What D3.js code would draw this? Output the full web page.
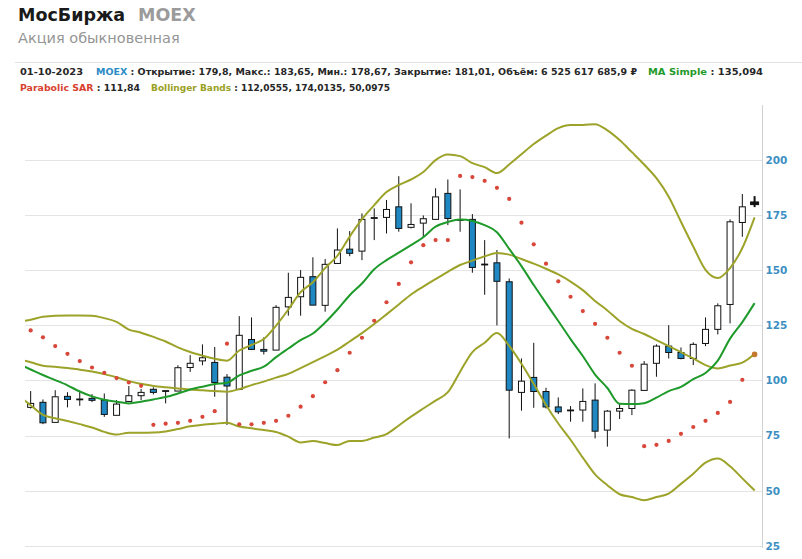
<!DOCTYPE html>
<html><head><meta charset="utf-8">
<script src="https://cdn.jsdelivr.net/npm/d3@7"></script>
<style>body{margin:0;background:#fff;} svg{display:block;}</style>
</head><body><svg id="c" width="802" height="559"></svg>
<script>
// weekly candles (first entry of lineDates is the week before the first visible candle)
const dates = ["14-08-2022","21-08-2022","28-08-2022","04-09-2022","11-09-2022","18-09-2022","25-09-2022","02-10-2022","09-10-2022","16-10-2022","23-10-2022","30-10-2022","06-11-2022","13-11-2022","20-11-2022","27-11-2022","04-12-2022","11-12-2022","18-12-2022","25-12-2022",
"01-01-2023","08-01-2023","15-01-2023","22-01-2023","29-01-2023","05-02-2023","12-02-2023","19-02-2023","26-02-2023","05-03-2023","12-03-2023","19-03-2023","26-03-2023","02-04-2023","09-04-2023","16-04-2023","23-04-2023","30-04-2023","07-05-2023","14-05-2023",
"21-05-2023","28-05-2023","04-06-2023","11-06-2023","18-06-2023","25-06-2023","02-07-2023","09-07-2023","16-07-2023","23-07-2023","30-07-2023","06-08-2023","13-08-2023","20-08-2023","27-08-2023","03-09-2023","10-09-2023","17-09-2023","24-09-2023","01-10-2023"];
const lineDates = ["07-08-2022"].concat(dates);

const openP  = [87.8,90.1,81.0,92.8,91.6,91.9,91.1,84.2,90.5,93.1,96.0,95.3,95.2,105.9,108.9,108.2,101.5,96.0,118.6,114.1,113.8,133.4,138.0,147.1,134.1,153.1,159.6,158.7,173.8,174.0,178.8,169.5,171.4,173.1,184.9,173.0,173.1,152.8,153.4,144.8,94.6,101.4,95.0,88.0,86.5,86.6,91.1,77.5,86.1,87.3,95.5,107.8,115.6,112.7,110.0,116.8,123.2,134.5,171.7,179.8];
const highP  = [95.2,91.4,95.6,94.7,95.3,93.8,94.1,91.1,97.5,96.2,96.9,95.6,106.9,111.5,116.4,115.2,102.9,129.2,128.6,119.6,134.2,148.9,150.1,155.9,155.1,169.0,167.8,175.8,178.1,181.9,192.7,180.4,174.9,187.2,191.2,186.7,175.5,163.7,159.2,146.3,110.0,117.1,96.7,92.3,88.4,96.4,98.7,86.6,89.6,96.0,108.8,116.4,125.1,115.0,117.3,128.6,135.0,173.1,184.6,183.65];
const lowP   = [87.3,80.2,81.0,87.8,88.5,90.2,83.5,84.2,90.1,91.1,93.7,89.6,95.2,103.9,106.9,92.6,79.8,95.6,113.8,111.8,113.8,129.4,129.4,134.2,131.2,153.1,156.4,154.6,163.7,166.7,167.5,169.0,164.7,173.1,170.5,167.5,148.9,138.9,125.0,73.7,86.3,87.6,87.3,84.8,81.3,81.3,73.7,70.0,82.5,84.3,95.5,101.7,110.0,109.6,107.0,115.6,120.9,125.9,165.2,178.67];
const closeP = [89.6,80.8,92.6,91.4,91.5,91.0,84.6,89.3,93.1,94.6,94.6,95.4,105.8,107.8,110.3,99.1,97.5,120.5,114.1,113.3,133.2,137.7,146.8,134.2,152.7,159.2,157.7,173.1,173.9,177.6,169.0,170.8,173.4,183.3,173.5,173.0,151.3,152.8,145.0,95.6,99.7,95.0,88.0,85.8,86.6,90.5,77.0,86.1,87.3,95.6,107.4,115.6,112.7,110.0,116.4,123.2,133.9,172.0,178.8,181.01];

// indicators (aligned with lineDates)
const maSimple = [107.5,105.0,102.5,100.2,97.8,95.0,92.8,91.3,90.4,89.6,90.4,91.4,92.5,94.1,95.9,97.2,98.4,99.0,102.3,104.4,106.3,110.6,114.5,118.3,121.3,126.3,132.2,138.7,144.0,150.5,154.6,158.0,161.4,165.0,169.8,171.9,173.0,172.4,170.5,167.3,159.7,151.9,143.3,135.1,127.0,118.8,111.1,102.7,96.6,89.4,89.3,89.7,92.2,95.2,97.1,100.6,103.4,109.0,119.0,126.5,135.094];
const bbUpper  = [126.5,127.6,128.9,129.4,129.5,129.5,129.4,128.3,126.6,123.1,121.7,119.8,117.7,115.0,112.9,111.3,109.9,109.0,113.6,116.1,118.8,124.9,132.2,140.1,144.6,151.0,156.6,165.3,173.2,179.6,185.5,188.7,191.2,194.6,200.0,202.5,201.8,198.6,196.8,194.1,198.0,202.7,207.3,211.1,214.5,215.9,215.9,216.3,213.5,209.1,203.6,198.0,191.8,183.4,172.0,160.8,150.2,146.5,151.0,160.1,174.0135];
const bbMiddle = [109.6,108.3,106.7,106.2,105.7,104.9,104.1,102.9,101.5,99.7,98.5,97.5,96.9,96.4,95.9,95.6,95.2,94.9,96.1,97.9,99.5,101.3,103.0,105.6,108.3,111.1,114.0,117.7,121.5,125.6,130.0,134.5,139.0,142.6,146.0,149.3,152.4,154.4,156.3,157.9,157.1,155.1,153.0,150.7,148.1,144.9,141.0,136.1,131.8,127.0,123.4,121.1,118.3,115.6,112.9,110.0,107.0,105.5,106.8,108.1,112.0555];
const bbLower  = [93.1,88.8,84.4,82.9,81.6,80.2,78.7,76.7,75.5,76.3,76.3,76.4,76.9,78.0,79.2,79.9,80.4,80.8,79.1,78.3,77.5,76.6,74.5,71.9,72.5,71.6,70.7,72.6,72.6,74.1,75.7,79.6,83.6,87.3,90.9,94.7,104.0,112.9,117.1,121.5,115.7,107.6,98.4,88.9,80.5,73.1,65.0,57.4,52.5,48.4,47.1,45.7,47.1,48.7,53.1,57.7,62.7,64.6,61.1,55.6,50.0975];
// parabolic SAR (aligned with dates)
const sarP = [122.7,119.6,115.6,112.1,108.8,105.9,103.5,101.1,99.1,97.6,79.9,80.4,80.8,81.7,83.5,86.1,116.7,80.1,80.1,80.8,81.7,84.0,88.1,92.9,99.2,104.7,112.6,119.4,127.1,135.5,143.8,153.6,161.4,163.7,163.7,192.8,192.3,190.6,187.4,182.4,171.6,161.8,153.0,145.0,138.0,131.5,125.7,119.4,112.6,106.7,70.2,70.8,72.6,75.8,78.9,81.7,85.3,90.3,100.3,111.84];

const yTicks = [25,50,75,100,125,150,175,200];

const svg = d3.select("#c");
const plotL = 25, plotR = 762, plotT = 105, plotB = 548;
const x = d3.scalePoint().domain(lineDates).range([18.4, 754.6]);
const y = d3.scaleLinear().domain([24, 225]).range([plotB, plotT]);

const FONT = "'DejaVu Sans', Verdana, sans-serif";

// header
svg.append("text").attr("x",18).attr("y",21).attr("font-family",FONT).attr("font-weight","bold").attr("font-size",17.5).attr("fill","#1a1a1a").text("МосБиржа");
svg.append("text").attr("x",138).attr("y",21).attr("font-family",FONT).attr("font-weight","bold").attr("font-size",17.5).attr("fill","#9b9b9b").text("MOEX");
svg.append("text").attr("x",18).attr("y",43).attr("font-family",FONT).attr("font-size",14.5).attr("fill","#959595").text("Акция обыкновенная");
svg.append("line").attr("x1",15).attr("x2",802).attr("y1",62.5).attr("y2",62.5).attr("stroke","#e2e2e2");

function legend(xp, yp, width, parts){
  const t = svg.append("text").attr("x",xp).attr("y",yp).attr("font-family",FONT).attr("font-size",9.5).attr("font-weight","bold")
    .attr("textLength",width).attr("lengthAdjust","spacingAndGlyphs");
  parts.forEach(p => t.append("tspan").attr("fill",p[1]).text(p[0]));
}
const dark = "#262626";
legend(20,75,63,[["01-10-2023",dark]]);
legend(96,75,541,[["MOEX","#2a8bc6"],[" : Открытие: 179,8, Макс.: 183,65, Мин.: 178,67, Закрытие: 181,01, Объём: 6 525 617 685,9 ₽",dark]]);
legend(648,75,115,[["MA Simple","#1f9a2b"],[" : 135,094",dark]]);
legend(20,91,120,[["Parabolic SAR","#d9412f"],[" : 111,84",dark]]);
legend(151,91,239,[["Bollinger Bands","#9aa124"],[" : 112,0555, 174,0135, 50,0975",dark]]);

// grid
svg.append("g").selectAll("line").data(yTicks).join("line")
  .attr("x1",plotL).attr("x2",plotR).attr("y1",d=>Math.round(y(d))+0.5).attr("y2",d=>Math.round(y(d))+0.5)
  .attr("stroke","#e4e4e4");

// right axis
const axis = svg.append("g").attr("transform",`translate(${plotR+0.5},0)`)
  .call(d3.axisRight(y).tickValues(yTicks).tickSize(0).tickPadding(3));
axis.select(".domain").attr("stroke","#d0d0d0").attr("d",`M0,${plotT}V${plotB}`);
axis.selectAll("text").attr("font-family",FONT).attr("font-weight","bold").attr("font-size",10.5).attr("fill","#3d8fc2");

// clip
svg.append("clipPath").attr("id","clp").append("rect").attr("x",plotL).attr("y",plotT).attr("width",plotR-plotL).attr("height",plotB-plotT);
const g = svg.append("g").attr("clip-path","url(#clp)");

// candles
const idx = d3.range(dates.length);
const last = dates.length-1;
const cg = g.append("g");
cg.selectAll("line.w").data(idx).join("line").attr("class","w")
  .attr("x1",i=>x(dates[i])).attr("x2",i=>x(dates[i]))
  .attr("y1",i=>y(highP[i])).attr("y2",i=>y(lowP[i]))
  .attr("stroke","#111").attr("stroke-width",i=>i===last?2:1);
cg.selectAll("rect").data(idx).join("rect")
  .attr("x",i=>x(dates[i])-(i===last?4:3))
  .attr("width",i=>i===last?8:6)
  .attr("y",i=>y(Math.max(openP[i],closeP[i])))
  .attr("height",i=>Math.max(0.8,Math.abs(y(openP[i])-y(closeP[i]))))
  .attr("fill",i=>i===last?"#111":(closeP[i]>=openP[i]?"#fff":"#1f87c1"))
  .attr("stroke","#111").attr("stroke-width",1);

// lines
const line = arr => d3.line().x((d,i)=>x(lineDates[i])).y(d=>y(d)).curve(d3.curveMonotoneX)(arr);
const olive = "#9ca328";
[bbUpper,bbMiddle,bbLower].forEach(a=>{
  g.append("path").attr("d",line(a)).attr("fill","none").attr("stroke",olive).attr("stroke-width",2).attr("stroke-linejoin","round");
});
g.append("path").attr("d",line(maSimple)).attr("fill","none").attr("stroke","#1e9a2a").attr("stroke-width",2).attr("stroke-linejoin","round");

// SAR dots
g.append("g").selectAll("circle").data(idx).join("circle")
  .attr("cx",i=>x(dates[i])).attr("cy",i=>y(sarP[i]))
  .attr("r",i=>i===last?2.8:2.1)
  .attr("fill",i=>i===last?"#c4782b":"#d9473a");
</script></body></html>
